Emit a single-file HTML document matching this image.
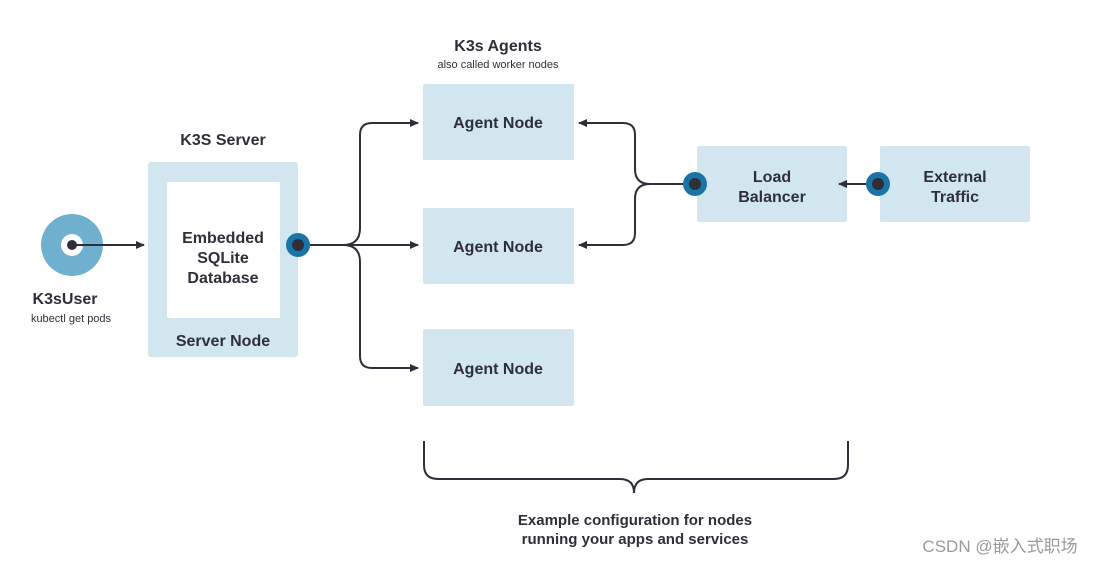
<!DOCTYPE html>
<html><head><style>
body{margin:0;background:#fff;width:1101px;height:566px;overflow:hidden;font-family:"Liberation Sans","Noto Sans CJK SC",sans-serif}
svg{position:absolute;left:0;top:0}
</style></head><body>
<svg width="1101" height="566" viewBox="0 0 1101 566" font-family="Liberation Sans, Noto Sans CJK SC, sans-serif">
<defs><marker id="a" markerWidth="10" markerHeight="10" refX="8" refY="5" orient="auto" markerUnits="userSpaceOnUse"><path d="M0,1 L9,5 L0,9 Z" fill="#2f2f3a"/></marker></defs>
<g fill="#d2e6f0">
<rect x="148" y="162" width="150" height="195" rx="3"/>
<rect x="423" y="84" width="151" height="76" rx="2"/>
<rect x="423" y="208" width="151" height="76" rx="2"/>
<rect x="423" y="329" width="151" height="77" rx="2"/>
<rect x="697" y="146" width="150" height="76" rx="2"/>
<rect x="880" y="146" width="150" height="76" rx="2"/>
</g>
<rect x="167" y="182" width="113" height="136" rx="2" fill="#fff"/>
<circle cx="72" cy="245" r="31" fill="#6fb0cf"/>
<circle cx="72" cy="245" r="11" fill="#fff"/>
<g stroke="#2f2f3a" stroke-width="2" fill="none">
<line x1="72" y1="245" x2="144" y2="245" marker-end="url(#a)"/>
<path d="M298,245 H418" marker-end="url(#a)"/>
<path d="M343,245 Q360,245 360,228 V135 Q360,123 372,123 H418" marker-end="url(#a)"/>
<path d="M343,245 Q360,245 360,262 V356 Q360,368 372,368 H418" marker-end="url(#a)"/>
<path d="M695,184 H650 Q635,184 635,169 V135 Q635,123 623,123 H579" marker-end="url(#a)"/>
<path d="M650,184 Q635,184 635,199 V233 Q635,245 623,245 H579" marker-end="url(#a)"/>
<path d="M878,184 H839" marker-end="url(#a)"/>
<path d="M424,441 V465 Q424,479 438,479 H620 Q634,479 634,493 Q634,479 648,479 H834 Q848,479 848,465 V441"/>
</g>
<circle cx="72" cy="245" r="5" fill="#2f2f3a"/>
<g fill="#1a74a6"><circle cx="298" cy="245" r="12"/><circle cx="695" cy="184" r="12"/><circle cx="878" cy="184" r="12"/></g>
<g fill="#2f2f3a"><circle cx="298" cy="245" r="6"/><circle cx="695" cy="184" r="6"/><circle cx="878" cy="184" r="6"/></g>
<g fill="#2f2f3a" font-weight="bold" font-size="16" text-anchor="middle">
<text x="223" y="145">K3S Server</text>
<text x="223" y="243">Embedded</text>
<text x="223" y="263">SQLite</text>
<text x="223" y="283">Database</text>
<text x="223" y="346">Server Node</text>
<text x="498" y="128">Agent Node</text>
<text x="498" y="252">Agent Node</text>
<text x="498" y="374">Agent Node</text>
<text x="772" y="182">Load</text>
<text x="772" y="202">Balancer</text>
<text x="955" y="182">External</text>
<text x="955" y="202">Traffic</text>
<text x="498" y="51">K3s Agents</text>
<text x="635" y="525" font-size="15">Example configuration for nodes</text>
<text x="635" y="544" font-size="15">running your apps and services</text>
<text x="65" y="304" font-size="16">K3sUser</text>
</g>
<g fill="#2f2f3a" font-size="11" text-anchor="middle">
<text x="498" y="68">also called worker nodes</text>
<text x="71" y="322">kubectl get pods</text>
</g>
<text x="1000" y="552" font-size="17" fill="#9a9a9a" text-anchor="middle">CSDN @嵌入式职场</text>
</svg>
</body></html>
